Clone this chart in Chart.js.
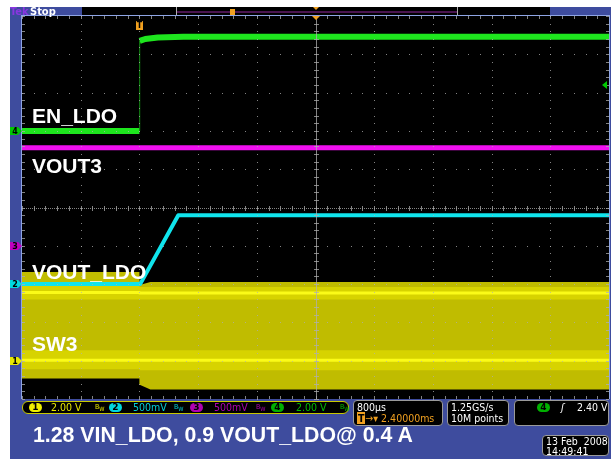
<!DOCTYPE html>
<html lang="en">
<head>
  <meta charset="UTF-8">
  <title>EN_LDO / VOUT_LDO start-up</title>
  <script src="https://cdn.jsdelivr.net/npm/chart.js@4.4.2/dist/chart.umd.min.js"></script>
  <style>
    body { margin: 0; background: #fff; }
    #wrap { position: relative; width: 615px; height: 459px; overflow: hidden; }
    #scope { position: absolute; left: 0; top: 0; }
    .lbl { position: absolute; color: #fff; font: bold 21px "Liberation Sans", Arial, sans-serif; line-height: 21px; white-space: nowrap; }
    .ro { position: absolute; font: 10.5px "DejaVu Sans Condensed", "DejaVu Sans", sans-serif; font-stretch: condensed; line-height: 11px; white-space: nowrap; color: #fff; }
    .box { position: absolute; background: #000; border: 1px solid #9a9a9a; border-radius: 4px; box-sizing: border-box; }
    .badge { position: absolute; width: 13px; height: 9px; border-radius: 5px; color: #000; font: bold 9px "DejaVu Sans", sans-serif; line-height: 9px; text-align: center; }
    .top { position: absolute; top: 6px; font: bold 11px "DejaVu Sans Condensed", "DejaVu Sans", sans-serif; font-stretch: condensed; line-height: 11px; z-index: 2; }
  </style>
</head>
<body>
<div id="wrap">
  <canvas id="scope" width="615" height="459"></canvas>

  <div class="top" style="left:10px;color:#8a36e0">Tek</div>
  <div class="top" style="left:30px;color:#fff">Stop</div>

  <div class="lbl" style="left:32px;top:105px">EN_LDO</div>
  <div class="lbl" style="left:32px;top:155px">VOUT3</div>
  <div class="lbl" style="left:32px;top:261px">VOUT_LDO</div>
  <div class="lbl" style="left:32px;top:333px">SW3</div>

  <!-- channel readout strip -->
  <div class="box" style="left:22px;top:401px;width:327px;height:13px;border-radius:6px;border-color:#c8c800"></div>
  <div class="badge" style="left:29px;top:403px;background:#f0f000">1</div>
  <div class="ro" style="left:51px;top:402px;color:#e6e600">2.00 V</div>
  <div class="ro" style="left:95px;top:402px;color:#e6e600;font-size:7px">B<sub>W</sub></div>
  <div class="badge" style="left:109px;top:403px;background:#00d8e0">2</div>
  <div class="ro" style="left:133px;top:402px;color:#00d0d8">500mV</div>
  <div class="ro" style="left:174px;top:402px;color:#00d0d8;font-size:7px">B<sub>W</sub></div>
  <div class="badge" style="left:190px;top:403px;background:#b000b0">3</div>
  <div class="ro" style="left:214px;top:402px;color:#b000b0">500mV</div>
  <div class="ro" style="left:256px;top:402px;color:#b000b0;font-size:7px">B<sub>W</sub></div>
  <div class="badge" style="left:271px;top:403px;background:#00b000">4</div>
  <div class="ro" style="left:296px;top:402px;color:#00c000">2.00 V</div>
  <div class="ro" style="left:340px;top:402px;color:#00c000;font-size:7px">B<sub>W</sub></div>

  <div class="box" style="left:353px;top:400px;width:90px;height:26px"></div>
  <div class="ro" style="left:357px;top:402px">800µs</div>
  <div class="ro" style="left:357px;top:413px;color:#f0a020"><span style="background:#f0a020;color:#000;font-weight:bold;padding:0 1px">T</span>→▾ 2.40000ms</div>

  <div class="box" style="left:447px;top:400px;width:62px;height:26px"></div>
  <div class="ro" style="left:451px;top:402px">1.25GS/s</div>
  <div class="ro" style="left:451px;top:413px">10M points</div>

  <div class="box" style="left:514px;top:400px;width:95px;height:26px"></div>
  <div class="badge" style="left:537px;top:403px;background:#00b000">4</div>
  <div class="ro" style="left:561px;top:402px;font-style:italic">ʃ</div>
  <div class="ro" style="left:577px;top:402px">2.40 V</div>

  <div class="lbl" style="left:33px;top:425px;font-size:21.3px">1.28 VIN_LDO, 0.9 VOUT_LDO@ 0.4 A</div>

  <div class="box" style="left:542px;top:435px;width:67px;height:21px"></div>
  <div class="ro" style="left:546px;top:436px">13 Feb &nbsp;2008</div>
  <div class="ro" style="left:546px;top:446px">14:49:41</div>
</div>

<script>
// time base: 800 us/div, 10 divisions, trigger 2 div from the left (ms)
const timeMin = -1.6;
const timeMax = 6.4;
const timeDiv = 0.8;

// channel settings: volts per division and ground offset (divisions)
const ch1 = { scale: 2.0, offset: -4 };   // SW3
const ch2 = { scale: 0.5, offset: -2 };   // VOUT_LDO
const ch3 = { scale: 0.5, offset: -1 };   // VOUT3
const ch4 = { scale: 2.0, offset: 2 };    // EN_LDO

// EN_LDO (ch4), volts
const enTime  = [-1.6, 0, 0.004, 0.08, 0.25, 0.6, 6.4];
const enVolts = [0, 0, 4.7, 4.8, 4.88, 4.92, 4.92];

// VOUT3 (ch3), volts
const vout3Time  = [-1.6, 6.4];
const vout3Volts = [1.28, 1.28];

// VOUT_LDO (ch2), volts
const ldoTime  = [-1.6, 0.01, 0.53, 6.4];
const ldoVolts = [0, 0, 0.9, 0.9];

// SW3 (ch1) switching envelope, volts
const swTime   = [-1.6, 0, 0.004, 0.15, 6.4];
const swMax    = [4.63, 4.63, 3.95, 4.11, 4.11];
const swMin    = [-0.93, -0.93, -1.25, -1.5, -1.5];
const swHiGlowTop = [3.95, 3.95, 3.85, 3.85, 3.85];
const swHiGlowBot = [3.2, 3.2, 3.2, 3.2, 3.2];
const swLoGlowTop = [0.55, 0.55, 0.55, 0.55, 0.55];
const swLoGlowBot = [-0.45, -0.45, -0.5, -0.5, -0.5];
const swRail   = [3.56, 3.56, 3.54, 3.54, 3.54];
const swGnd    = [0.02, 0.02, 0.02, 0.02, 0.02];

const BLUE = '#3e4c9e';

function pts(times, volts, ch) {
  return times.map((t, i) => ({ x: t, y: ch.offset + volts[i] / ch.scale }));
}

const scopeFrame = {
  id: 'scopeFrame',
  beforeDraw(chart) {
    const { ctx, chartArea: a } = chart;
    ctx.save();
    ctx.fillStyle = '#fff';
    ctx.fillRect(0, 0, chart.width, chart.height);
    ctx.fillStyle = BLUE;
    ctx.fillRect(10, 7, 601, 452);
    ctx.fillStyle = '#000';
    ctx.fillRect(a.left, a.top, a.right - a.left, a.bottom - a.top);
    // record view bar
    ctx.fillRect(82, 7, 468, 9);
    ctx.fillStyle = '#4a1450';
    ctx.fillRect(177, 11, 280, 2);
    ctx.fillStyle = '#b0b0b0';
    ctx.fillRect(176, 7, 1, 9);
    ctx.fillRect(457, 7, 1, 9);
    ctx.fillStyle = '#f0a020';
    ctx.fillRect(230, 9, 5, 7);
    ctx.beginPath();
    ctx.moveTo(313, 7); ctx.lineTo(319, 7); ctx.lineTo(316, 10); ctx.fill();
    ctx.restore();
  },
  afterDatasetsDraw(chart) {
    const { ctx, chartArea: a } = chart;
    const xs = chart.scales.x, ys = chart.scales.y;
    ctx.save();
    ctx.fillStyle = 'rgba(175,175,175,0.75)';
    // dotted graticule
    for (let i = 1; i < 10; i++) {
      const x = Math.round(xs.getPixelForValue(timeMin + i * timeDiv));
      for (let j = 0; j <= 50; j++) {
        const y = Math.round(ys.getPixelForValue(-5 + j * 0.2));
        if (i === 5) ctx.fillRect(x - 2, y, 5, 1);
        else ctx.fillRect(x, y, 1, 1);
      }
      if (i === 5) ctx.fillRect(x, a.top, 1, a.bottom - a.top);
    }
    for (let k = 1; k < 10; k++) {
      const y = Math.round(ys.getPixelForValue(-5 + k));
      for (let j = 0; j <= 50; j++) {
        const x = Math.round(xs.getPixelForValue(timeMin + j * timeDiv / 5));
        if (k === 5) ctx.fillRect(x, y - 2, 1, 5);
        else ctx.fillRect(x, y, 1, 1);
      }
      if (k === 5) {
        for (let x = a.left; x < a.right; x += 2) ctx.fillRect(x, y, 1, 1);
      }
    }
    // edge ticks
    for (let j = 0; j <= 50; j++) {
      const x = Math.round(xs.getPixelForValue(timeMin + j * timeDiv / 5));
      const y = Math.round(ys.getPixelForValue(-5 + j * 0.2));
      ctx.fillRect(x, a.top, 1, 3);
      ctx.fillRect(x, a.bottom - 3, 1, 3);
      ctx.fillRect(a.left, y, 3, 1);
      ctx.fillRect(a.right - 3, y, 3, 1);
    }
    // graticule border
    ctx.fillStyle = '#8ea4e4';
    ctx.fillRect(a.left - 1, a.top - 1, a.right - a.left + 2, 1);
    ctx.fillRect(a.left - 1, a.top - 1, 1, a.bottom - a.top + 1);
    ctx.fillRect(a.right, a.top - 1, 1, a.bottom - a.top + 1);

    // channel ground markers on the left edge
    const marks = [[ch4, '#00c800', '4'], [ch3, '#c000c0', '3'], [ch2, '#00d8e0', '2'], [ch1, '#e8e800', '1']];
    ctx.font = 'bold 8px "DejaVu Sans", sans-serif';
    ctx.textAlign = 'center';
    ctx.textBaseline = 'middle';
    marks.forEach(([ch, col, n]) => {
      const y = Math.round(ys.getPixelForValue(ch.offset));
      ctx.fillStyle = col;
      ctx.beginPath();
      ctx.moveTo(10, y - 4); ctx.lineTo(18, y - 4); ctx.lineTo(22, y);
      ctx.lineTo(18, y + 4); ctx.lineTo(10, y + 4); ctx.closePath(); ctx.fill();
      ctx.fillStyle = '#000';
      ctx.fillText(n, 15, y + 0.5);
    });

    // trigger position marker and trigger level arrow
    const tx = Math.round(xs.getPixelForValue(0));
    ctx.fillStyle = '#f0a020';
    ctx.fillRect(tx - 3, a.top + 5, 7, 9);
    ctx.fillStyle = '#000';
    ctx.font = 'bold 8px "DejaVu Sans", sans-serif';
    ctx.fillText('T', tx + 0.5, a.top + 10);
    ctx.fillStyle = '#f0a020';
    ctx.beginPath();
    const cx = Math.round(xs.getPixelForValue(timeMin + 5 * timeDiv));
    ctx.moveTo(cx - 4, a.top); ctx.lineTo(cx + 4, a.top); ctx.lineTo(cx, a.top + 4); ctx.fill();
    const ly = ys.getPixelForValue(ch4.offset + 2.4 / ch4.scale);
    ctx.fillStyle = '#00c800';
    ctx.beginPath();
    ctx.moveTo(a.right - 2, ly - 4); ctx.lineTo(a.right - 2, ly + 4); ctx.lineTo(a.right - 7, ly); ctx.fill();
    ctx.restore();
  }
};

const flat = { pointRadius: 0, tension: 0, borderJoinStyle: 'round' };
const none = { borderWidth: 0, borderColor: 'transparent' };

// fast edges are drawn as a thin trace, settled levels as a thick one
function edgeWidth(thick) {
  return c => (c.p1.parsed.x - c.p0.parsed.x < 0.02 ? 1 : thick);
}

new Chart(document.getElementById('scope'), {
  type: 'line',
  data: {
    datasets: [
      { label: 'SW3 max', data: pts(swTime, swMax, ch1), ...none, order: 20,
        backgroundColor: '#c0bc00', fill: '+1', ...flat },
      { label: 'SW3 min', data: pts(swTime, swMin, ch1), ...none, order: 19, fill: false, ...flat },
      { label: 'SW3 high glow', data: pts(swTime, swHiGlowTop, ch1), ...none, order: 18,
        backgroundColor: 'rgba(238,234,0,0.5)', fill: '+1', ...flat },
      { label: 'SW3 high glow b', data: pts(swTime, swHiGlowBot, ch1), ...none, order: 17, fill: false, ...flat },
      { label: 'SW3 low glow', data: pts(swTime, swLoGlowTop, ch1), ...none, order: 16,
        backgroundColor: 'rgba(238,234,0,0.5)', fill: '+1', ...flat },
      { label: 'SW3 low glow b', data: pts(swTime, swLoGlowBot, ch1), ...none, order: 15, fill: false, ...flat },
      { label: 'SW3 rail', data: pts(swTime, swRail, ch1), borderColor: '#fbfb18', borderWidth: 3, order: 14, fill: false, ...flat },
      { label: 'SW3 gnd', data: pts(swTime, swGnd, ch1), borderColor: '#fbfb18', borderWidth: 3, order: 13, fill: false, ...flat },
      { label: 'VOUT_LDO', data: pts(ldoTime, ldoVolts, ch2), borderColor: '#10e4ec', borderWidth: 4, order: 3, fill: false, ...flat },
      { label: 'VOUT3', data: pts(vout3Time, vout3Volts, ch3), borderColor: '#f010f0', borderWidth: 5, order: 2, fill: false, ...flat },
      { label: 'EN_LDO', data: pts(enTime, enVolts, ch4), borderColor: '#1ee61e', borderWidth: 6, order: 1, fill: false, ...flat,
        segment: { borderWidth: edgeWidth(6), borderColor: c => (c.p1.parsed.x - c.p0.parsed.x < 0.02 ? '#128a12' : '#1ee61e') } }
    ]
  },
  options: {
    responsive: false,
    animation: false,
    devicePixelRatio: 1,
    layout: { padding: { left: 22, right: 6, top: 16, bottom: 60 } },
    plugins: { legend: { display: false }, tooltip: { enabled: false } },
    scales: {
      x: { type: 'linear', min: timeMin, max: timeMax, display: false },
      y: { type: 'linear', min: -5, max: 5, display: false }
    }
  },
  plugins: [scopeFrame]
});
</script>
</body>
</html>
